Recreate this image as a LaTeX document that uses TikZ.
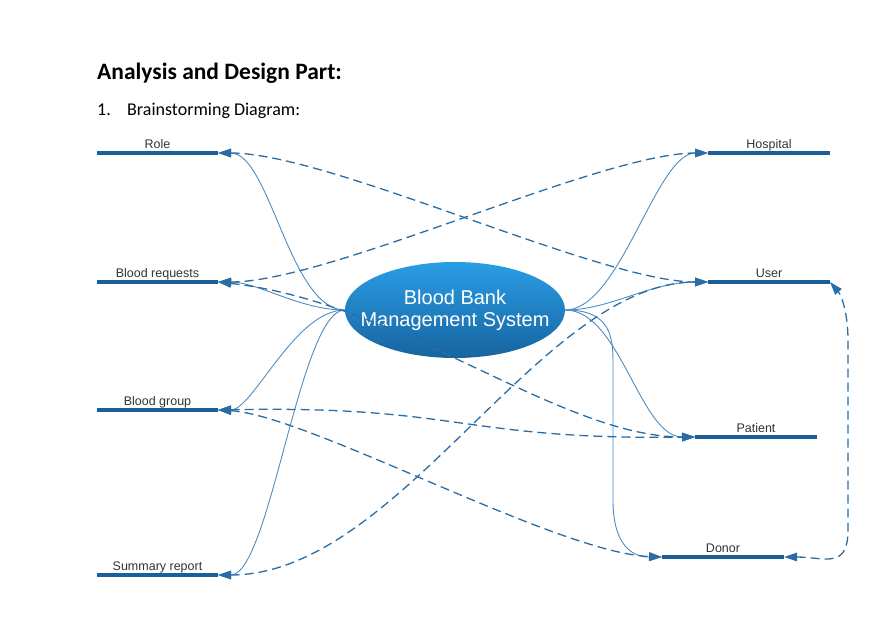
\documentclass[tikz,border=0pt]{standalone}
\usepackage{fontspec}
\setmainfont{Liberation Sans}
\newfontfamily\headfont{Carlito}
\usetikzlibrary{shapes.geometric,arrows.meta}

\definecolor{branchblue}{HTML}{1A5F97}
\definecolor{linkblue}{HTML}{4F8CC0}
\definecolor{dashblue}{HTML}{2A6DA5}
\definecolor{ovaltop}{HTML}{2A9DE6}
\definecolor{ovalbot}{HTML}{17649F}
\definecolor{labelgray}{HTML}{333333}

\begin{document}
\begin{tikzpicture}[x=1pt,y=-1pt,
  >={Triangle[length=13pt,width=8.5pt]},
  branch/.style={line width=3.5pt,branchblue},
  link/.style={->,line width=0.9pt,linkblue},
  rel/.style={<->,line width=1.3pt,dashblue,dash pattern=on 9pt off 5pt},
  lbl/.style={font=\fontsize{12.5}{14}\selectfont,text=labelgray,anchor=base,inner sep=0pt}]
\useasboundingbox (0,0) rectangle (871,633);
% heading
\node[anchor=base west,inner sep=0pt,font=\headfont\bfseries\fontsize{23.5}{28}\selectfont] (title) at (97,79) {Analysis and Design Part:};
\node[anchor=base west,inner sep=0pt,font=\headfont\fontsize{18}{22}\selectfont] (num) at (97,115) {1.};
\node[anchor=base west,inner sep=0pt,font=\headfont\fontsize{18}{22}\selectfont] (sub) at (127,115) {Brainstorming Diagram:};
% branches (first point takes the arrows)
\foreach \nm/\xa/\xb/\y/\txt in {role/218/97/153/Role, req/218/97/282/Blood requests,
    grp/218/97/410/Blood group, sum/218/97/575/Summary report,
    hosp/708/830/153/Hospital, user/708/830/282/User,
    pat/695/817/437/Patient, don/662/784/557/Donor}{
  \coordinate (\nm) at (\xa,\y);
  \coordinate (\nm-o) at (\xb,\y);
  \draw[branch] (\nm) -- (\nm-o);
  \node[lbl] (\nm-l) at ({(\xa+\xb)/2},{\y-5}) {\txt};
}
% centre topic
\node[ellipse,minimum width=220pt,minimum height=96pt,inner xsep=-22pt,inner ysep=0pt,
  top color=ovaltop,bottom color=ovalbot,text=white,align=center,
  font=\fontsize{20}{22}\selectfont] (bbms) at (455,310) {Blood Bank\\Management System};
% links to the left
\draw[link] (bbms.west) .. controls +(-55,0) and +(52,0) .. (role);
\draw[link] (bbms.west) .. controls +(-45,0) and +(40,0) .. (req);
\draw[link] (bbms.west) .. controls +(-50,0) and +(35,0) .. (grp);
\draw[link] (bbms.west) .. controls +(-45,0) and +(52,0) .. (sum);
% links to the right
\draw[link] (bbms.east) .. controls +(55,0) and +(-52,0) .. (hosp);
\draw[link] (bbms.east) .. controls +(45,0) and +(-58,0) .. (user);
\draw[link] (bbms.east) .. controls +(55,0) and +(-55,0) .. (pat);
\draw[link] (bbms.east) .. controls +(40,0) and +(0,-30) .. (613,360) -- (613,500)
  .. controls +(0,45) and +(-30,0) .. (don);
% relations
\draw[rel] (role) .. controls +(112,0) and +(-108,0) .. (user);
\draw[rel] (req) .. controls +(112,0) and +(-108,0) .. (hosp);
\draw[rel] (req) .. controls +(182,20) and +(-135,0) .. (pat);
\draw[rel] (grp) .. controls +(242,-5) and +(-235,3) .. (pat);
\draw[rel] (grp) .. controls +(90,5) and +(-105,-4) .. (don);
\draw[rel] (sum) .. controls +(182,0) and +(-168,0) .. (user);
\draw[rel] (don-o) .. controls +(40,0) and +(0,40) .. (848,530) -- (848,340)
  .. controls +(0,-25) and +(12,14) .. (user-o);
\end{tikzpicture}
\end{document}
